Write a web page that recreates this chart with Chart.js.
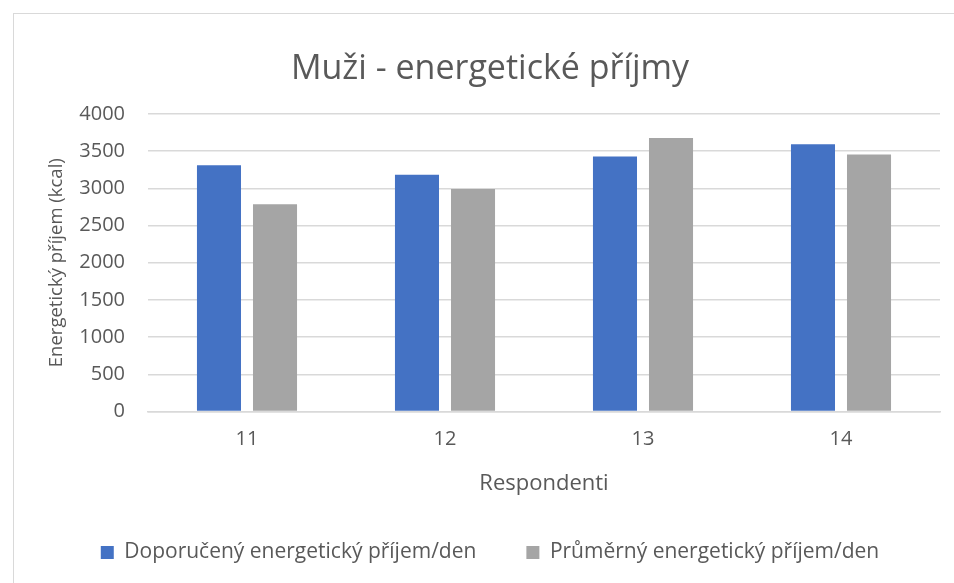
<!DOCTYPE html>
<html>
<head>
<meta charset="utf-8">
<script src="https://cdn.jsdelivr.net/npm/chart.js@4"></script>
<style>
  body { margin: 0; background: #fff; }
  #wrap { position: relative; width: 954px; height: 583px; overflow: hidden; }
  #frame { position: absolute; left: 13px; top: 13px; width: 960px; height: 600px; border: 1px solid #d9d9d9; }
  canvas { position: absolute; left: 0; top: 0; }
</style>
</head>
<body>
<div id="wrap">
  <div id="frame"></div>
  <canvas id="chart" width="954" height="583"></canvas>
</div>
<script>
// respondents on the x axis
const categories = ['11', '12', '13', '14'];
// kcal per day
const recommended = [3310, 3180, 3425, 3590];
const average = [2785, 2990, 3675, 3455];
const yTicks = [0, 500, 1000, 1500, 2000, 2500, 3000, 3500, 4000];

const textColor = '#595959';
const gridColor = '#d9d9d9';
const fontFamily = "'Open Sans', 'Noto Sans', sans-serif";

const ctx = document.getElementById('chart').getContext('2d');
new Chart(ctx, {
  type: 'bar',
  data: {
    labels: categories,
    datasets: [
      {
        label: 'Doporučený energetický příjem/den',
        data: recommended,
        backgroundColor: '#4472C4',
        barPercentage: 0.786,
        categoryPercentage: 0.566,
      },
      {
        label: 'Průměrný energetický příjem/den',
        data: average,
        backgroundColor: '#A5A5A5',
        barPercentage: 0.786,
        categoryPercentage: 0.566,
      },
    ],
  },
  options: {
    responsive: false,
    animation: false,
    // wider left padding so title and legend centre like the original frame
    layout: { padding: { left: 40, right: 14, top: 0, bottom: 10 } },
    plugins: {
      title: {
        display: true,
        text: 'Muži - energetické příjmy',
        color: textColor,
        font: { family: fontFamily, size: 34, weight: 'normal' },
        padding: { top: 49, bottom: 24 },
      },
      legend: {
        position: 'bottom',
        labels: {
          color: textColor,
          font: { family: fontFamily, size: 21 },
          boxWidth: 13,
          boxHeight: 13,
          padding: 50,
        },
      },
      tooltip: { enabled: false },
    },
    scales: {
      x: {
        grid: { display: false },
        border: { color: gridColor, width: 1.5 },
        ticks: { color: textColor, font: { family: fontFamily, size: 20 }, padding: 8 },
        title: {
          display: true,
          text: 'Respondenti',
          color: textColor,
          font: { family: fontFamily, size: 22 },
          padding: { top: 11, bottom: -5 },
        },
      },
      y: {
        min: 0,
        max: 4000,
        afterBuildTicks: (axis) => { axis.ticks = yTicks.map(v => ({ value: v })); },
        afterFit: (axis) => { axis.width = 108; },
        grid: { color: gridColor, lineWidth: 1.5, tickLength: 10, tickColor: 'transparent' },
        border: { display: false },
        ticks: {
          color: textColor,
          font: { family: fontFamily, size: 20 },
          padding: 13,
          callback: (v) => String(v),
        },
        title: {
          display: true,
          text: 'Energetický příjem (kcal)',
          color: textColor,
          font: { family: fontFamily, size: 18.5 },
          padding: { top: 6, bottom: 0 },
        },
      },
    },
  },
});
</script>
</body>
</html>
